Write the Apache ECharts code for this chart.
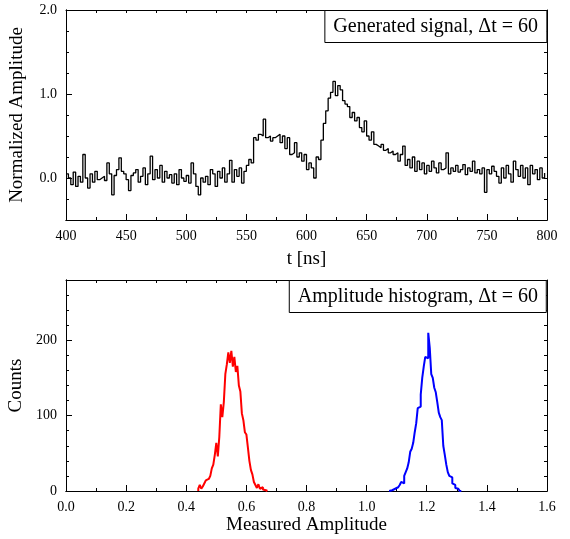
<!DOCTYPE html>
<html>
<head>
<meta charset="utf-8">
<script src="https://cdn.jsdelivr.net/npm/echarts@6/dist/echarts.min.js"></script>
<style>
html, body { margin: 0; padding: 0; background: #fff; }
#main { width: 570px; height: 539px; }
</style>
</head>
<body>
<div id="main"></div>
<script>
// generated signal: one sample every 2 ns starting at 400 ns
const signalStart = 400
const signalStep = 2
const signalValues = [
  0.05, 0.0, -0.08, 0.07, -0.1, 0.02, -0.05, 0.28, 0.0, -0.12,
  0.05, -0.05, 0.08, -0.02, 0.0, 0.02, -0.03, 0.18, 0.05, -0.2,
  0.03, 0.1, 0.24, 0.08, 0.05,
  -0.02, -0.15, 0.03, 0.06, 0.1, -0.05, 0.02, 0.12, -0.08, 0.05,
  0.26, -0.02, 0.1, 0.0, 0.15, -0.05, 0.08, 0.0, 0.04, -0.06,
  0.05, -0.08, 0.1, 0.0, -0.04,
  0.03, -0.06, 0.18, 0.05, -0.1, -0.2, 0.0, -0.05, 0.02, -0.08,
  0.1, 0.05, -0.1, 0.08, 0.0, 0.12, -0.05, 0.05, 0.21, -0.05,
  0.1, 0.02, 0.12, -0.06, 0.08,
  0.15, 0.22, 0.18, 0.48, 0.45, 0.52, 0.5, 0.7, 0.48, 0.5,
  0.44, 0.48, 0.5, 0.52, 0.42, 0.5, 0.35, 0.48, 0.28, 0.3,
  0.42, 0.25, 0.3, 0.2, 0.28,
  0.1, 0.18, 0.12, 0.0, 0.25, 0.22, 0.45, 0.65, 0.8, 0.95,
  1.02, 1.15, 0.98, 1.1, 1.05, 0.92, 0.88, 0.85, 0.72, 0.78,
  0.68, 0.72, 0.6, 0.55, 0.68, 0.5,
  0.45, 0.55, 0.4, 0.38, 0.36, 0.4, 0.33, 0.35, 0.3, 0.32,
  0.28, 0.3, 0.2, 0.28, 0.38, 0.15, 0.22, 0.12, 0.25, 0.08,
  0.2, 0.1, 0.18, 0.05, 0.15,
  0.08, 0.2, 0.12, 0.06, 0.18, 0.1, 0.12, 0.3, 0.05, 0.12,
  0.08, 0.15, 0.07, 0.1, 0.16, 0.04, 0.12, 0.08, 0.2, 0.06,
  0.1, 0.05, 0.12, -0.17, 0.1, 0.05, 0.14, 0.08, 0.02, -0.06,
  0.12, 0.0, 0.15, 0.05, -0.05, 0.2, 0.1, 0.02, 0.15, 0.0,
  0.12, -0.08, 0.15, 0.05, 0.1, -0.02, 0.12, 0.0, 0.06
]

// amplitude histograms, bins of 0.005
const binWidth = 0.005
const redStart = 0.44
const redCounts = [
  3, 8, 3, 6, 10, 14, 16, 17, 20, 30,
  35, 48, 64, 46, 72, 115, 98, 118, 155, 168,
  184, 170, 186, 165, 178, 158, 166, 140, 132, 103,
  94, 78, 75, 58, 40, 28, 22, 12, 8, 4,
  9, 3, 5, 2, 1, 0
]
const blueStart = 1.075
const blueCounts = [
  2, 1, 2, 3, 2,
  5, 4, 8, 12, 10, 20, 25, 30, 38, 52,
  56, 64, 78, 90, 110, 112, 128, 150, 165, 178,
  176, 210, 190, 155, 150, 137, 131, 118, 104, 98,
  94, 60, 48, 35, 25, 20, 18, 10, 8, 4,
  3, 1, 0
]

// tick labels
const signalTimeTicks = [400, 450, 500, 550, 600, 650, 700, 750, 800]
const signalAmpTicks = [0, 1, 2]
const histAmpTicks = [0, 0.2, 0.4, 0.6, 0.8, 1.0, 1.2, 1.4, 1.6]
const histCountTicks = [0, 100, 200]

const FONT = 'Liberation Serif'

let signalData = signalValues.map((v, i) => [signalStart + i * signalStep, v])

function histPoints(start, counts) {
  let pts = [[start, 0]]
  counts.forEach((c, i) => pts.push([start + i * binWidth, c]))
  pts.push([start + counts.length * binWidth, 0])
  return pts
}

let lineStyle = { color: '#000', width: 1 }

// frame axis with short minor ticks, no labels
function frameAxis(grid, pos, min, max, interval) {
  return {
    type: 'value', gridIndex: grid, position: pos,
    min: min, max: max, interval: interval,
    axisLine: { show: true, onZero: false, lineStyle: lineStyle },
    axisTick: { show: true, inside: true, length: 3, lineStyle: lineStyle },
    axisLabel: { show: false },
    splitLine: { show: false }
  }
}

// labelled axis: long ticks only at the labelled values
function labelAxis(kind, grid, pos, min, max, ticks, fmt, name, nameGap) {
  return {
    type: 'value', gridIndex: grid, position: pos, min: min, max: max,
    name: name, nameLocation: 'middle', nameGap: nameGap,
    nameRotate: kind === 'y' ? 90 : 0,
    nameTextStyle: { color: '#000', fontFamily: FONT, fontSize: 19 },
    axisLine: { show: true, onZero: false, lineStyle: lineStyle },
    axisTick: { show: true, inside: true, length: 6, customValues: ticks, lineStyle: lineStyle },
    axisLabel: {
      show: true, customValues: ticks, formatter: fmt, margin: 9,
      color: '#000', fontFamily: FONT, fontSize: 14
    },
    splitLine: { show: false }
  }
}

let legendBox = {
  right: 23, borderColor: '#000', borderWidth: 1, padding: [7, 9, 6, 9], backgroundColor: '#fff',
  textStyle: { fontFamily: FONT, fontSize: 20, fontWeight: 'normal', color: '#000' }
}

let myChart = echarts.init(document.getElementById('main'))
let option = {
  animation: false,
  backgroundColor: '#fff',
  title: [
    Object.assign({ text: 'Generated signal, \u0394t = 60', top: 10 }, legendBox),
    Object.assign({ text: 'Amplitude histogram, \u0394t = 60', top: 280 }, legendBox)
  ],
  grid: [
    { left: 66, right: 23, top: 10, height: 210, outerBoundsMode: 'none' },
    { left: 66, right: 23, top: 280, height: 211, outerBoundsMode: 'none' }
  ],
  xAxis: [
    labelAxis('x', 0, 'bottom', 400, 800, signalTimeTicks, v => String(v), 't [ns]', 30),
    frameAxis(0, 'bottom', 400, 800, 25),
    frameAxis(0, 'top', 400, 800, 25),
    labelAxis('x', 1, 'bottom', 0, 1.6, histAmpTicks, v => v.toFixed(1), 'Measured Amplitude', 25),
    frameAxis(1, 'bottom', 0, 1.6, 0.1),
    frameAxis(1, 'top', 0, 1.6, 0.1)
  ],
  yAxis: [
    labelAxis('y', 0, 'left', -0.5, 2.0, signalAmpTicks, v => v.toFixed(1), 'Normalized Amplitude', 39),
    frameAxis(0, 'left', -0.5, 2.0, 0.25),
    frameAxis(0, 'right', -0.5, 2.0, 0.25),
    labelAxis('y', 1, 'left', 0, 280, histCountTicks, v => String(v), 'Counts', 39),
    frameAxis(1, 'left', 0, 280, 20),
    frameAxis(1, 'right', 0, 280, 20)
  ],
  series: [
    {
      type: 'line', xAxisIndex: 0, yAxisIndex: 0, step: 'end', showSymbol: false,
      lineStyle: { color: '#000', width: 1.3 }, data: signalData
    },
    {
      type: 'line', xAxisIndex: 3, yAxisIndex: 3, step: 'end', showSymbol: false,
      lineStyle: { color: '#ff0000', width: 2 }, data: histPoints(redStart, redCounts)
    },
    {
      type: 'line', xAxisIndex: 3, yAxisIndex: 3, step: 'end', showSymbol: false,
      lineStyle: { color: '#0000ff', width: 2 }, data: histPoints(blueStart, blueCounts)
    }
  ]
}
myChart.setOption(option)
</script>
</body>
</html>
